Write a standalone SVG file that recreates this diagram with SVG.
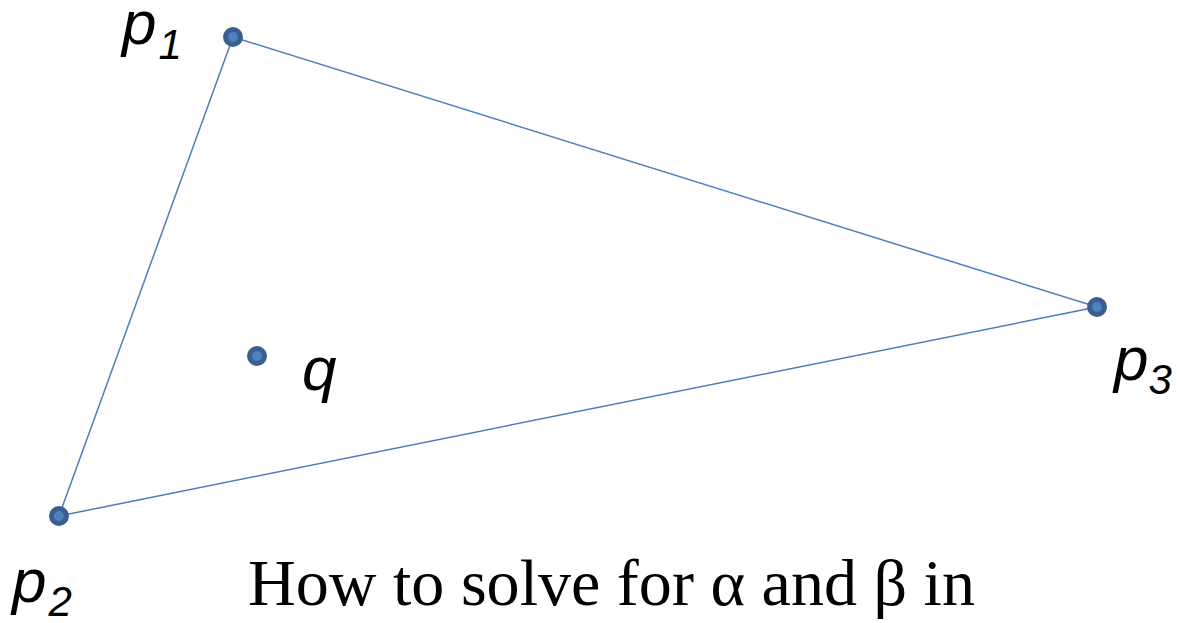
<svg xmlns="http://www.w3.org/2000/svg" width="1177" height="623" viewBox="0 0 1177 623">
<style>
.edge{stroke:#4a7ebb;stroke-width:1.5;fill:none}
.pt{fill:#4f81bd;stroke:#3a5f8f;stroke-width:5}
.lbl{font-family:"Liberation Sans",Arial,sans-serif;font-style:italic;font-size:62px;fill:#000}
.sub{font-size:42px}
.cap{font-family:"Liberation Serif","DejaVu Serif",serif;font-size:65px;fill:#000}
</style>
<rect width="1177" height="623" fill="#fff"/>
<g id="connectors">
<line class="edge" x1="233" y1="37" x2="59" y2="516"/>
<line class="edge" x1="233" y1="37" x2="1097" y2="307"/>
<line class="edge" x1="59" y1="516" x2="1097" y2="307"/>
</g>
<g id="p1"><circle class="pt" cx="233" cy="37" r="7.5"/><text class="lbl" x="122" y="44">p<tspan class="sub" dx="2" dy="15">1</tspan></text></g>
<g id="p2"><circle class="pt" cx="59" cy="516" r="7.5"/><text class="lbl" x="12" y="602">p<tspan class="sub" dx="2" dy="14">2</tspan></text></g>
<g id="p3"><circle class="pt" cx="1097" cy="307" r="7.5"/><text class="lbl" x="1114" y="380">p<tspan class="sub" dx="0" dy="14">3</tspan></text></g>
<g id="q"><circle class="pt" cx="257" cy="356" r="7.5"/><text class="lbl" x="302" y="390">q</text></g>
<text class="cap" x="248" y="605" textLength="727" lengthAdjust="spacingAndGlyphs">How to solve for α and β in</text>
</svg>
